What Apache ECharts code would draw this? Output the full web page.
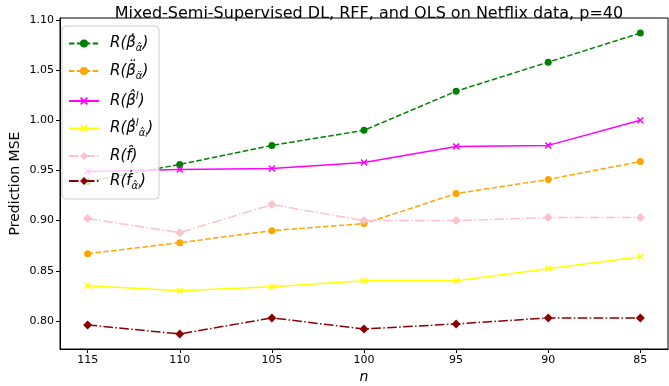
<!DOCTYPE html>
<html><head><meta charset="utf-8">
<script src="https://cdn.jsdelivr.net/npm/echarts@6/dist/echarts.min.js"></script>
<style>html,body{margin:0;padding:0;background:#fff}#c{width:669px;height:386px}</style>
</head><body><div id="c"></div>
<script>
const nValues = [115, 110, 105, 100, 95, 90, 85];
const xTicks = [115, 110, 105, 100, 95, 90, 85];
const yTicks = [0.80, 0.85, 0.90, 0.95, 1.00, 1.05, 1.10];
const betaDotAlpha = [0.939, 0.956, 0.975, 0.990, 1.029, 1.058, 1.087];
const betaDDotAlpha = [0.867, 0.878, 0.890, 0.897, 0.927, 0.941, 0.959];
const betaHatL = [0.949, 0.951, 0.952, 0.958, 0.974, 0.975, 1.000];
const betaDotLAlpha = [0.835, 0.830, 0.834, 0.840, 0.840, 0.852, 0.864];
const fHat = [0.902, 0.888, 0.916, 0.900, 0.900, 0.903, 0.903];
const fDotAlpha = [0.796, 0.787, 0.803, 0.792, 0.797, 0.803, 0.803];

const seriesNames = ['s1','s2','s3','s4','s5','s6'];
const legendLabels = {
  s1: '{m|R(}{g|β̇}{sub|α̂}{m|)}',
  s2: '{m|R(}{g|β̈}{sub|α̈}{m|)}',
  s3: '{m|R(}{g|β̂}{sup|l}{m|)}',
  s4: '{m|R(}{g|β̇}{sup|l}{sub|α̂}{ss|l}{m|)}',
  s5: '{m|R(}{g|f̂}{m|)}',
  s6: '{m|R(}{g|ḟ}{sub|α̂}{ss|l}{m|)}'
};

const XMARK = 'path://M1.5,0 L5,3.5 L8.5,0 L10,1.5 L6.5,5 L10,8.5 L8.5,10 L5,6.5 L1.5,10 L0,8.5 L3.5,5 L0,1.5 Z';
const dashed = [5.5, 2.4];
const dashDot = [9.6, 2.4, 1.5, 2.4];

function mk(name, data, color, symbol, size, lineType) {
  return {
    name: name, type: 'line',
    data: nValues.map((n, i) => [n, data[i]]),
    symbol: symbol, symbolSize: size,
    itemStyle: { color: color },
    lineStyle: { color: color, width: 1.5, type: lineType },
    emphasis: { disabled: true },
    animation: false
  };
}

const chart = echarts.init(document.getElementById('c'), null, { renderer: 'canvas' });
const font = 'DejaVu Sans';
chart.setOption({
  animation: false,
  backgroundColor: '#fff',
  title: {
    text: 'Mixed-Semi-Supervised DL, RFF, and OLS on Netflix data, p=40',
    left: 364, top: 1, textAlign: 'center',
    textStyle: { fontFamily: font, fontSize: 16, fontWeight: 'normal', color: '#000' }
  },
  grid: { left: 60, right: 1, top: 18, bottom: 37, outerBoundsMode: 'none', containLabel: false, show: true, borderColor: '#000', borderWidth: 1, backgroundColor: 'transparent' },
  legend: {
    data: seriesNames,
    left: 62, top: 26, orient: 'vertical',
    padding: [10, 6, 8, 6],
    itemGap: 10, itemWidth: 30, itemHeight: 10,
    backgroundColor: 'rgba(255,255,255,0.8)',
    borderColor: '#cccccc', borderWidth: 1, borderRadius: 4,
    formatter: name => legendLabels[name],
    textStyle: {
      padding: [0, 0, 0, 6],
      rich: {
        m: { fontFamily: font, fontSize: 15, fontStyle: 'italic', color: '#000', lineHeight: 20 },
        g: { fontFamily: font, fontSize: 15, fontStyle: 'italic', color: '#000', lineHeight: 20 },
        sub: { fontFamily: font, fontSize: 10, fontStyle: 'italic', color: '#000', lineHeight: 9, verticalAlign: 'bottom' },
        ss: { fontFamily: font, fontSize: 7, fontStyle: 'italic', color: '#000', lineHeight: 6, verticalAlign: 'bottom' },
        sup: { fontFamily: font, fontSize: 10, fontStyle: 'italic', color: '#000', lineHeight: 10, verticalAlign: 'top' }
      }
    }
  },
  xAxis: {
    type: 'value', inverse: true, min: 83.5, max: 116.5,
    name: 'n', nameLocation: 'middle', nameGap: 21, nameMoveOverlap: false,
    nameTextStyle: { fontFamily: font, fontSize: 14, fontStyle: 'italic', color: '#000' },
    axisLine: { show: true, lineStyle: { color: '#000', width: 1 } },
    axisTick: { show: true, length: 4, lineStyle: { color: '#000' }, customValues: xTicks },
    axisLabel: { fontFamily: font, fontSize: 11, color: '#000', margin: 6, customValues: xTicks },
    splitLine: { show: false }
  },
  yAxis: {
    type: 'value', min: 0.772, max: 1.102,
    name: 'Prediction MSE', nameLocation: 'middle', nameGap: 38, nameMoveOverlap: false,
    nameTextStyle: { fontFamily: font, fontSize: 14, color: '#000' },
    axisLine: { show: true, lineStyle: { color: '#000', width: 1 } },
    axisTick: { show: true, length: 4, lineStyle: { color: '#000' }, customValues: yTicks },
    axisLabel: { fontFamily: font, fontSize: 11, color: '#000', margin: 6, customValues: yTicks, formatter: v => v.toFixed(2) },
    splitLine: { show: false }
  },
  series: [
    mk('s1', betaDotAlpha, '#008000', 'circle', 7, dashed),
    mk('s2', betaDDotAlpha, '#FFA500', 'circle', 7, dashed),
    mk('s3', betaHatL, '#FF00FF', XMARK, 7, 'solid'),
    mk('s4', betaDotLAlpha, '#FFFF00', XMARK, 7, 'solid'),
    mk('s5', fHat, '#FFC0CB', 'diamond', 9, dashDot),
    mk('s6', fDotAlpha, '#8B0000', 'diamond', 9, dashDot)
  ]
});
</script></body></html>
